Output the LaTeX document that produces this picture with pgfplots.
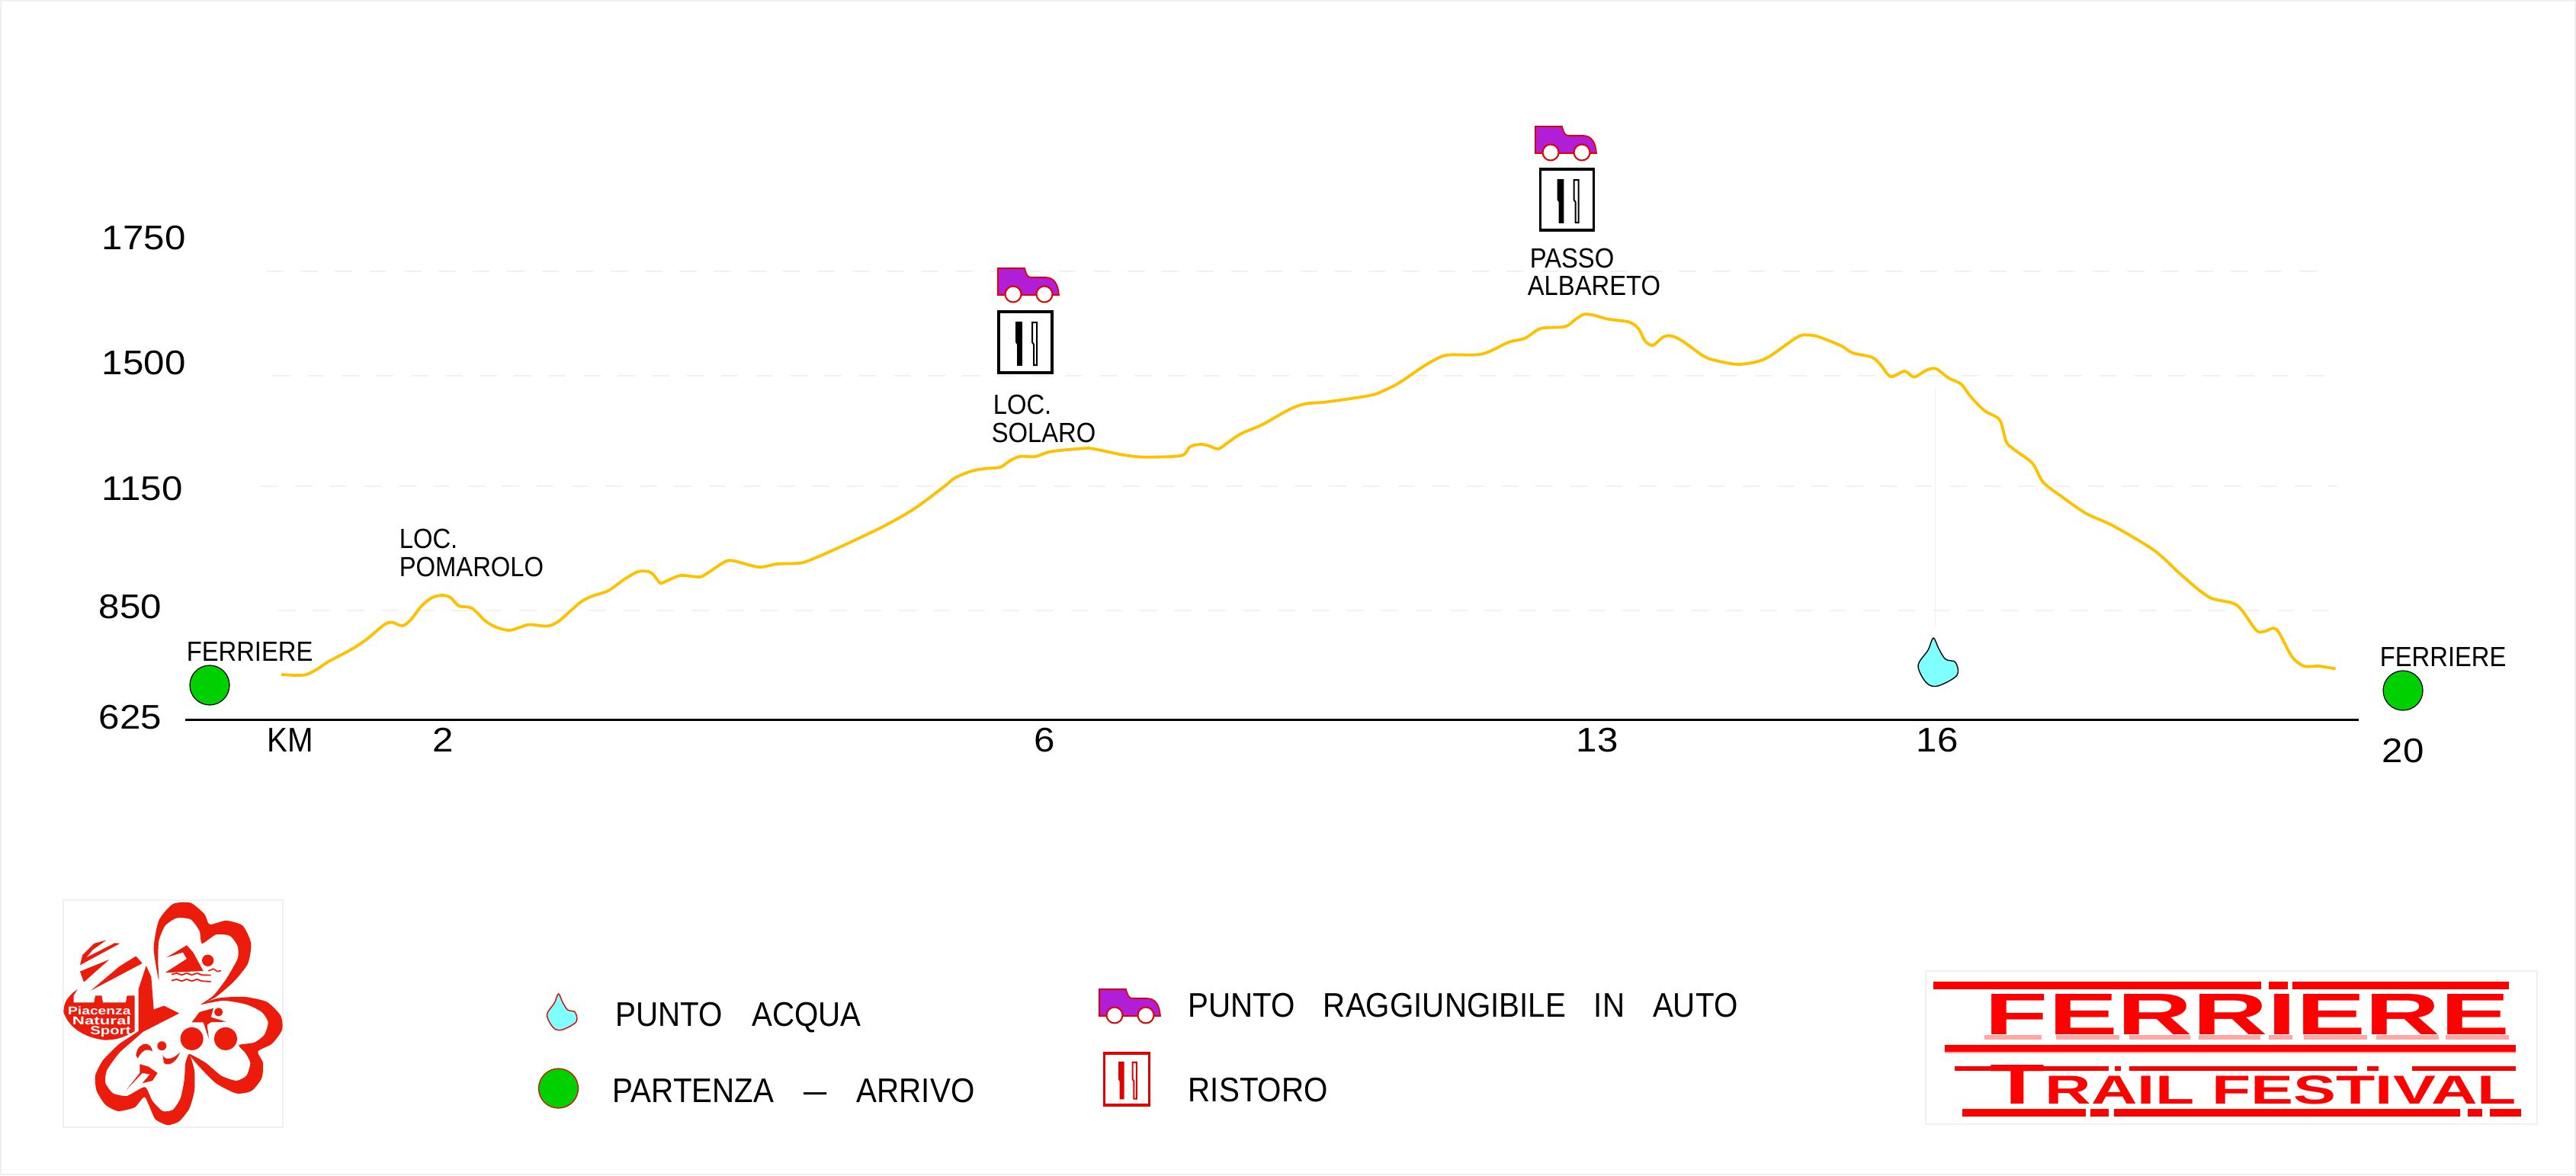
\documentclass[border=0pt]{standalone}
\usepackage{graphicx}
\usepackage{fontspec}
\usepackage{pgfplots}
\pgfplotsset{compat=1.18}
\setmainfont{Liberation Sans}
\newfontfamily\cadf[FakeStretch=0.90]{Liberation Sans}
\newfontfamily\numf[FakeStretch=1.10]{Liberation Sans}
\newcommand\cadsm{\cadf\fontsize{9.1}{10}\selectfont}
\newcommand\cadbg{\cadf\fontsize{11.2}{12}\selectfont}
\newcommand\numbg{\numf\fontsize{11.2}{12}\selectfont}
\definecolor{track}{HTML}{FFC000}
\definecolor{gridc}{HTML}{F2F2F2}
\definecolor{startgreen}{HTML}{00D000}
\definecolor{waterc}{HTML}{80FFFF}
\definecolor{carc}{HTML}{B01ED8}
\definecolor{redc}{HTML}{E00000}
\definecolor{logored}{HTML}{EB1C0C}
\definecolor{framec}{HTML}{F0F0F0}
% plot marks, drawn in picture pixels (1 px = 0.25 pt), y upward
\newcommand\defcar[2]{\pgfdeclareplotmark{#1}{%
  \begin{scope}[x=#2*0.25pt,y=#2*0.25pt]
  \filldraw[fill=carc,draw=redc,line width=0.4pt] (-40,23) -- (-5,23) .. controls (-2,12) and (0,11) .. (5,11) -- (23,11) .. controls (33,11) and (39,3) .. (40,-12) -- (-40,-12) -- cycle;
  \filldraw[fill=white,draw=redc,line width=0.5pt] (-20,-11) circle (10.5);
  \filldraw[fill=white,draw=redc,line width=0.5pt] (21,-11) circle (10.5);
  \end{scope}}}
\defcar{carA}{1}
\newcommand\defcut[3]{\pgfdeclareplotmark{#1}{%
  \begin{scope}[x=#3*0.25pt,y=#3*0.25pt]
  \filldraw[fill=white,draw=#2,line width=0.8pt] (-35,-40) rectangle (35,40);
  \fill[#2] (-12,26) -- (-5,26) -- (-5,-30) -- (-10,-30) -- (-10,-3) -- (-12,0) -- cycle;
  \filldraw[fill=white,draw=#2,line width=0.5pt] (9,26) -- (15,26) -- (15,-30) -- (11,-30) -- (11,-3) -- (9,0) -- cycle;
  \end{scope}}}
\defcut{cutB}{black}{1}
\defcut{cutR}{redc}{0.85}
\newcommand\defdrop[3]{\pgfdeclareplotmark{#1}{%
  \begin{scope}[x=#3*0.25pt,y=#3*0.25pt]
  \filldraw[mark=none,fill=waterc,draw=#2,line width=0.35pt] plot[mark=none,smooth cycle,tension=0.55] coordinates {(-2,32) (5,18) (14,4) (27,0) (29,-17) (4,-31) (-11,-27) (-22,-4.5) (-9,16)};
  \end{scope}}}
\defdrop{dropK}{black}{1}
\defdrop{dropR}{redc}{0.75}
\tikzset{lab/.style={anchor=west,inner sep=0pt,text depth=0pt},
         mid/.style={anchor=center,inner sep=0pt,text depth=0pt}}
% the printed scales of this profile are uneven, so the profile is kept in picture positions
\pgfplotstableread{
x y
369 885
388 886
402 885
416 878
430 868.5
461 852
482 838
503.5 820
514 816.5
528 821
539 813
553 795
567 784
581 781
591 784
602 795
619 798
637 815
651 823
668 827
682 823
695 819.5
717.5 821.5
731.6 816
749 801
763 789
777 782
798 775
819 760
837 750
851 750
858 755
866 765
875 762
893 755
917.5 757
928 752
951 737
963 736
995 744
1019 740
1047 739
1061 735.5
1103.5 717
1160 690
1200 667
1238.6 638.3
1252.6 627
1273.7 618.3
1291 615
1312 613
1323 605.7
1337 599
1358 599
1379 592.4
1421 588.4
1435 589
1474 597
1502 599.7
1549.5 597.7
1561 586
1575 583
1586 585
1598 589
1610.5 580.7
1628 569
1656 557
1691 537.4
1712 529.8
1740 527.4
1796.5 519
1814 513
1835 502.5
1866.7 481
1888 469
1902 465.5
1944 464.5
1979 449
2000 444
2021 431
2052.6 428.6
2066.7 419
2077 412.6
2088 413
2109 418.6
2137 422.6
2149 431
2158 447.5
2168 453
2182 442
2193 441
2207 447.5
2235 467.5
2252.6 473.5
2279 478
2304 474.7
2322 467
2358 442
2372.4 439.6
2387 442.4
2415.6 454
2430 463
2455 468.6
2466 477.6
2480 494
2498.4 487
2510.6 494.7
2527 485.7
2539.4 483.7
2556 496
2572.5 504
2585 520.4
2603 538.8
2623 551
2631.6 579.6
2642 589.8
2666 608
2680 632.7
2703.6 651
2736 673.5
2772 690
2826 722.4
2862 755
2898 783.7
2934 794
2959 826.5
2970 828.6
2986 825.7
3006 861
3022 874
3042 874
3063.5 877.6
}\profile
\begin{document}
\begin{tikzpicture}[x=1pt,y=1pt]
\path[use as bounding box] (0,0) rectangle (844.75pt,385.5pt);
\begin{axis}[
  at={(0pt,385.5pt)},anchor=north west,
  scale only axis,width=844.75pt,height=385.5pt,
  xmin=0,xmax=3379,ymin=0,ymax=1542,y dir=reverse,
  hide axis,clip=false]
\draw[framec,line width=0.5pt] (axis cs:1,1) rectangle (axis cs:3378,1541);
% grid lines
\addplot[gridc,line width=0.5pt,dash pattern=on 5.7pt off 5.6pt] coordinates {(349,356) (3060,356)};
\addplot[gridc,line width=0.5pt,dash pattern=on 5.7pt off 5.6pt] coordinates {(358,493) (3060,493)};
\addplot[gridc,line width=0.5pt,dash pattern=on 5.7pt off 5.6pt] coordinates {(342,638) (3067,638)};
\addplot[gridc,line width=0.5pt,dash pattern=on 5.7pt off 5.6pt] coordinates {(365,801) (3055,801)};
\addplot[gridc,line width=0.2pt] coordinates {(2538,509) (2538,822)};
% baseline and profile
\addplot[black,line width=0.75pt] coordinates {(243,944.5) (3094,944.5)};
\addplot[track,line width=0.95pt,smooth,tension=0.5] table[x=x,y=y] {\profile};
% markers
\addplot[only marks,mark=*,mark size=6.5pt,mark options={fill=startgreen,draw=black,line width=0.3pt}] coordinates {(275,899) (3152,906)};
\addplot[only marks,mark=dropK] coordinates {(2538,869)};
\addplot[only marks,mark=carA] coordinates {(1349,375) (2054,189)};
\addplot[only marks,mark=cutB] coordinates {(1345,449) (2055.5,262)};
% legend symbols
\addplot[only marks,mark=dropR] coordinates {(734,1328)};
\addplot[only marks,mark=*,mark size=6.5pt,mark options={fill=startgreen,draw=redc,line width=0.3pt}] coordinates {(732.5,1428)};
\addplot[only marks,mark=carA] coordinates {(1482,1321)};
\addplot[only marks,mark=cutR] coordinates {(1478,1416)};
% axis numbers
\node[lab,font=\numbg] at (axis cs:133,312) {1750};
\node[lab,font=\numbg] at (axis cs:133,476) {1500};
\node[lab,font=\numbg] at (axis cs:133,640.5) {1150};
\node[lab,font=\numbg] at (axis cs:129,796) {850};
\node[lab,font=\numbg] at (axis cs:129,940.5) {625};
\node[mid,font=\cadbg] at (axis cs:381,971) {KM};
\node[mid,font=\numbg] at (axis cs:581,971) {2};
\node[mid,font=\numbg] at (axis cs:1370,971) {6};
\node[mid,font=\numbg] at (axis cs:2095,971) {13};
\node[mid,font=\numbg] at (axis cs:2541,971) {16};
\node[mid,font=\numbg] at (axis cs:3152,984.5) {20};
% places
\node[lab,font=\cadsm] at (axis cs:523,707) {LOC.};
\node[lab,font=\cadsm] at (axis cs:523,743.5) {POMAROLO};
\node[lab,font=\cadsm] at (axis cs:244,855) {FERRIERE};
\node[lab,font=\cadsm] at (axis cs:3121,862) {FERRIERE};
\node[lab,font=\cadsm] at (axis cs:1302,531) {LOC.};
\node[lab,font=\cadsm] at (axis cs:1300,568) {SOLARO};
\node[lab,font=\cadsm] at (axis cs:2006,339) {PASSO};
\node[lab,font=\cadsm] at (axis cs:2003,375) {ALBARETO};
% legend text
\node[lab,font=\cadbg] at (axis cs:807,1331) {PUNTO\hspace{9.5pt}ACQUA};
\node[lab,font=\cadbg] at (axis cs:803,1431) {PARTENZA\hspace{9.8pt}\scalebox{1.35}[1]{–}\hspace{9.8pt}ARRIVO};
\node[lab,font=\cadbg] at (axis cs:1558,1319) {PUNTO\hspace{9.2pt}RAGGIUNGIBILE\hspace{9.2pt}IN\hspace{9.2pt}AUTO};
\node[lab,font=\cadbg] at (axis cs:1558,1430) {RISTORO};
% right logo
\draw[framec,line width=0.4pt] (axis cs:2526,1274) rectangle (axis cs:3328,1475);
\draw[framec,line width=0.4pt] (axis cs:83,1181) rectangle (axis cs:371,1479);
\fill[red] (axis cs:2536,1288) rectangle (axis cs:2966,1298);
\fill[red] (axis cs:2976,1288) rectangle (axis cs:3001,1298);
\fill[red] (axis cs:3007,1288) rectangle (axis cs:3291,1298);
\fill[red] (axis cs:2551,1371) rectangle (axis cs:3300,1380);
\fill[red!35] (axis cs:2551,1380) rectangle (axis cs:3300,1382);
\fill[red] (axis cs:2564,1399) rectangle (axis cs:2766,1405);
\fill[red] (axis cs:2774,1399) rectangle (axis cs:2782,1405);
\fill[red] (axis cs:2793,1399) rectangle (axis cs:3092,1405);
\fill[red] (axis cs:3105,1399) rectangle (axis cs:3120,1405);
\fill[red] (axis cs:3164,1399) rectangle (axis cs:3300,1405);
\fill[red] (axis cs:2574,1455) rectangle (axis cs:2736,1465);
\fill[red] (axis cs:2742,1455) rectangle (axis cs:2766,1465);
\fill[red] (axis cs:2773,1455) rectangle (axis cs:3227,1465);
\fill[red] (axis cs:3237,1455) rectangle (axis cs:3256,1465);
\fill[red] (axis cs:3266,1455) rectangle (axis cs:3307,1465);
\foreach \p/\q in {2603/2678,2697/2780,2793/2873,2884/2965,2976/3007,3022/3105,3117/3199,3208/3291}
  {\edef\tmp{\noexpand\fill[red!35] (axis cs:\p,1358) rectangle (axis cs:\q,1364);}\tmp}
\node[anchor=south west,inner sep=0pt,text=red] at (axis cs:2603,1358) {\resizebox{172pt}{13.25pt}{\bfseries FERRIERE}};
\node[anchor=south west,inner sep=0pt,text=red] at (axis cs:2610,1450) {\resizebox{172.5pt}{12.75pt}{\bfseries\fontsize{14}{14}\selectfont T\fontsize{10}{10}\selectfont RAIL FESTIVAL}};
\end{axis}
% left logo: own frame, 3 units per picture pixel, origin at pixel (80,1178)
\begin{scope}[x=0.25pt/3,y=-0.25pt/3,shift={(80*3,1178*3)}]
\begin{scope}[yshift=385.5pt]
\fill[logored] plot[smooth cycle,tension=0.4] coordinates {(385,325) (365,200) (385,90) (440,25) (510,20) (565,65) (585,105) (650,90) (715,110) (748,180) (735,260) (680,330) (610,390) (550,420) (600,385) (650,320) (695,240) (695,190) (665,150) (610,145) (555,180) (545,130) (510,85) (455,80) (410,110) (385,170) (382,250)};
\fill[logored] plot[smooth cycle,tension=0.4] coordinates {(550,420) (620,395) (720,390) (810,410) (865,465) (870,520) (830,575) (775,605) (795,650) (790,710) (750,760) (690,770) (610,730) (540,660) (505,615) (570,650) (630,700) (690,720) (730,700) (745,650) (725,610) (700,580) (760,570) (800,540) (815,490) (790,450) (730,420) (640,405)};
\fill[logored] plot[smooth cycle,tension=0.35] coordinates {(505,615) (525,680) (525,760) (505,830) (465,880) (420,895) (370,870) (330,785) (290,825) (225,840) (175,815) (140,760) (135,700) (165,640) (230,575) (310,525) (320,530) (230,610) (180,680) (175,730) (205,770) (260,780) (330,745) (360,800) (400,840) (440,835) (470,790) (485,720) (490,650)};
% spire and town block
\fill[logored] (335,268) -- (355,310) -- (365,440) -- (405,425) -- (465,455) -- (240,570) -- (305,525) -- (305,360) -- cycle;
\fill[logored] (65,360) -- (50,385) -- (50,412) -- (130,412) -- (135,385) -- (160,385) -- (165,412) -- (255,412) -- (260,385) -- (290,385) -- (290,525) .. controls (240,555) and (210,560) .. (170,560) .. controls (90,550) and (30,510) .. (10,450) .. controls (10,410) and (30,385) .. (65,360) -- cycle;
\node[inner sep=0pt,text=white] at (151,445) {\resizebox{20.6pt}{2.7pt}{\bfseries Piacenza}};
\node[inner sep=0pt,text=white] at (160,485) {\resizebox{19.2pt}{2.7pt}{\bfseries Natural}};
\node[inner sep=0pt,text=white] at (195,527) {\resizebox{13.3pt}{2.7pt}{\bfseries Sport}};
% skier
\fill[logored] (178,167) -- (130,180) -- (85,225) -- (75,265) -- (232,180) -- (212,178) -- (100,235) -- (125,205) -- cycle;
\fill[logored] (75,290) -- (190,243) -- (90,332) -- cycle;
\fill[logored] (295,230) -- (320,258) -- (118,365) -- (230,270) -- cycle;
% swimmer
\fill[logored] (415,235) -- (495,187) -- (520,215) -- (560,288) -- (410,295) -- (480,250) -- (495,240) -- (480,215) -- cycle;
\fill[logored] (578,247) circle (23);
\draw[logored,line width=0.45pt] (435,302) -- (455,297) -- (475,304) -- (495,297) -- (515,304) -- (535,297) -- (555,304) -- (590,305);
\draw[logored,line width=0.45pt] (435,326) -- (455,321) -- (475,328) -- (495,321) -- (515,328) -- (535,321) -- (555,328) -- (590,330);
\draw[logored,line width=0.4pt] (580,288) -- (600,280) -- (615,290) -- (630,287);
% cyclist
\fill[logored] (515,555) circle (45);
\fill[logored] (648,555) circle (45);
\fill[logored] (620,450) circle (17);
\fill[logored] (515,490) -- (545,450) -- (600,435) -- (590,470) -- (650,488) -- (590,490) -- (575,500) -- (582,555) -- (560,490) -- cycle;
% runner
\fill[logored] (397,583) circle (18);
\fill[logored] (295,620) .. controls (300,585) and (320,575) .. (335,575) .. controls (350,578) and (358,590) .. (360,605) .. controls (345,595) and (325,590) .. (302,632) -- cycle;
\fill[logored] (400,618) .. controls (405,640) and (440,640) .. (468,608) .. controls (455,650) and (420,665) .. (405,650) -- cycle;
\fill[logored] (257,757) -- (310,690) -- (310,655) -- (345,665) -- (380,690) -- (360,720) -- (320,730) -- (350,695) -- (320,690) -- cycle;
\end{scope}
\end{scope}
\end{tikzpicture}
\end{document}
